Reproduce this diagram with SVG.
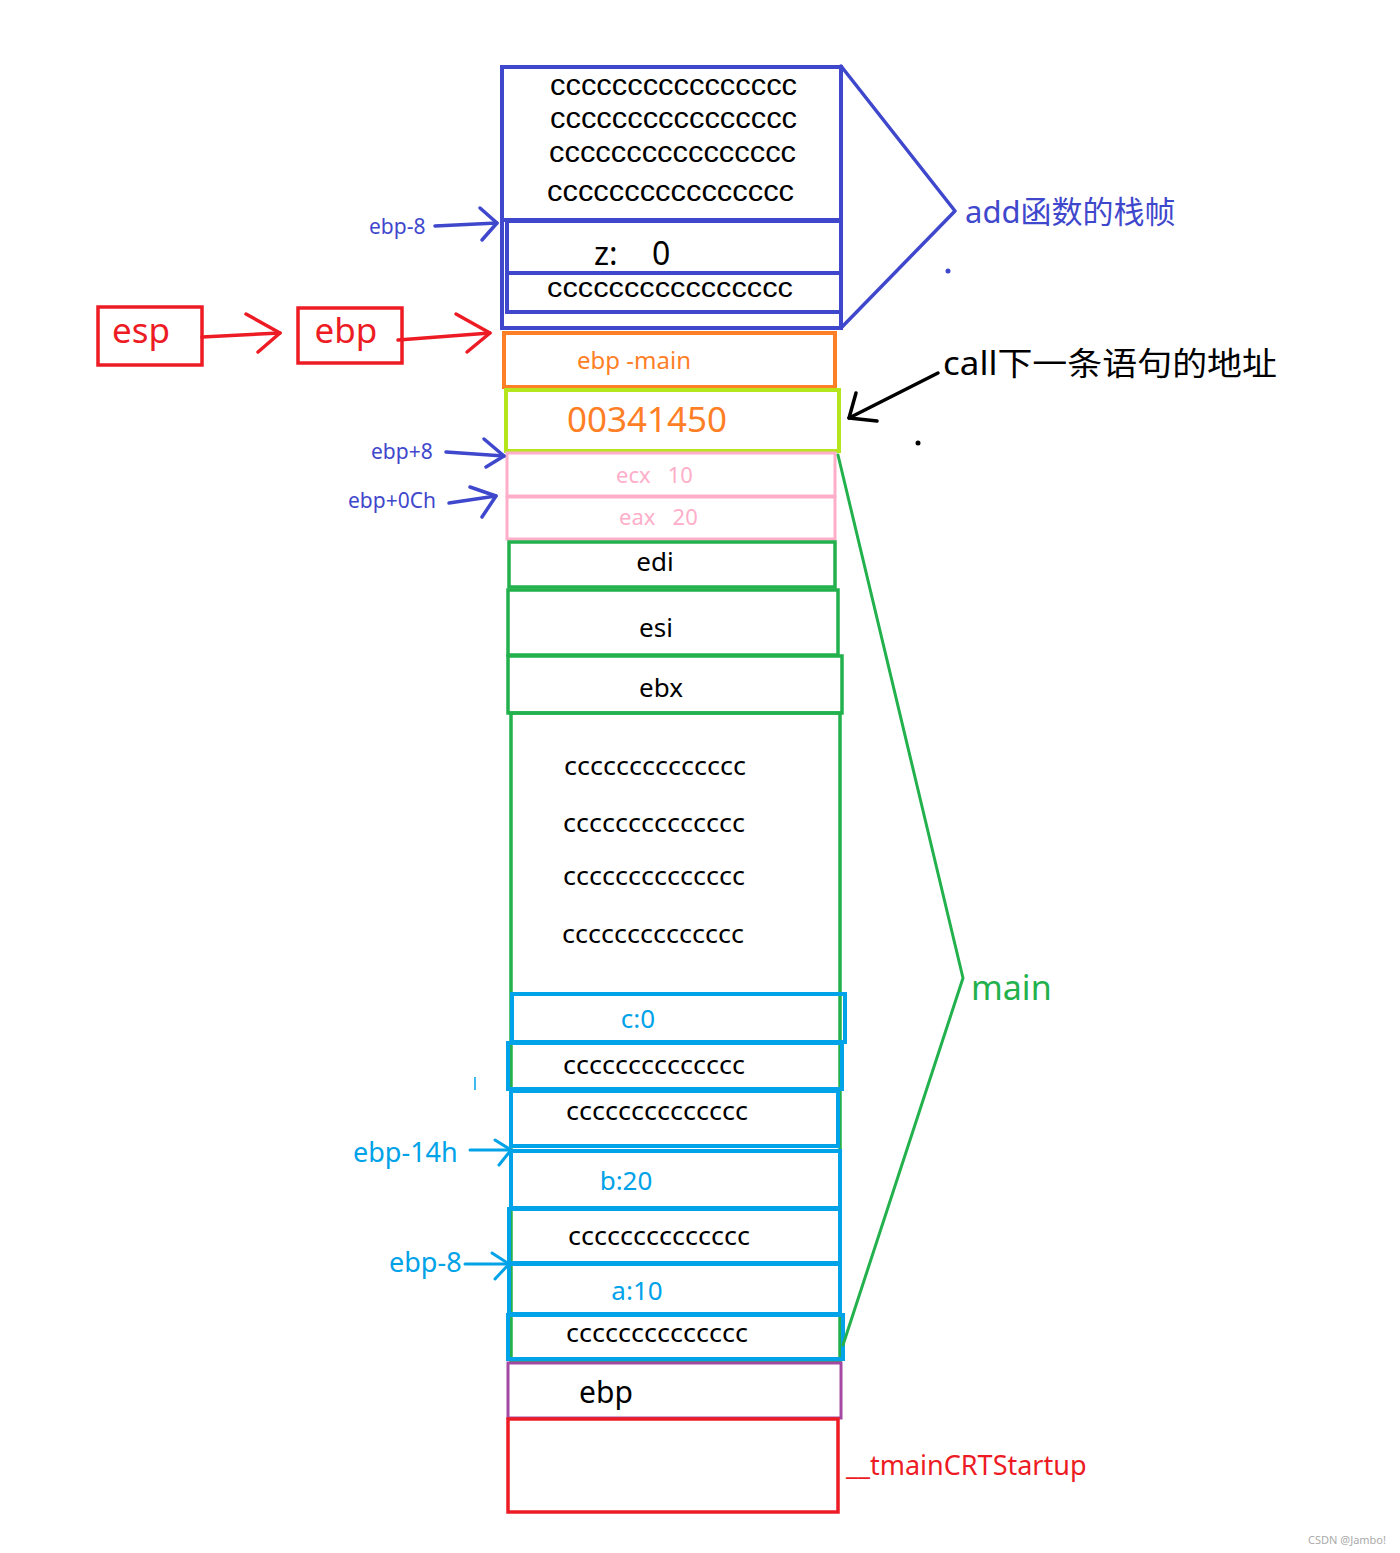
<svg xmlns="http://www.w3.org/2000/svg" width="1400" height="1553" viewBox="0 0 1400 1553">
<style>
text{font-family:"Noto Sans","Noto Sans CJK SC",sans-serif;}
.bl{stroke:#3f48cc;fill:none;stroke-width:4;}
.rd{stroke:#ed1c24;fill:none;stroke-width:3.5;}
.gr{stroke:#22b14c;fill:none;stroke-width:3.5;}
.lb{stroke:#00a2e8;fill:none;stroke-width:4;}
.pk{stroke:#ffaec9;fill:none;stroke-width:3;}
.ln{fill:none;stroke-linecap:round;stroke-linejoin:round;}
.c{fill:#000;font-size:29px;font-family:"Liberation Sans",sans-serif;}
.cg{fill:#000;font-size:26px;}
.tb{fill:#3f48cc;}
.tl{fill:#00a2e8;}
</style>
<rect width="1400" height="1553" fill="#fff"/>

<g id="add-frame">
<rect class="bl" x="502" y="67" width="339" height="261"/>
<line class="bl" x1="503" y1="220" x2="841" y2="220" stroke-width="5"/>
<rect class="bl" x="507" y="221" width="334" height="52"/>
<rect class="bl" x="507" y="273" width="334" height="39"/>
<text class="c" x="550" y="95" textLength="247" lengthAdjust="spacingAndGlyphs">cccccccccccccccc</text>
<text class="c" x="550" y="128" textLength="247" lengthAdjust="spacingAndGlyphs">cccccccccccccccc</text>
<text class="c" x="549" y="162" textLength="247" lengthAdjust="spacingAndGlyphs">cccccccccccccccc</text>
<text class="c" x="547" y="201" textLength="247" lengthAdjust="spacingAndGlyphs">cccccccccccccccc</text>
<text fill="#000" font-size="32" font-family="Liberation Sans, sans-serif"><tspan x="594" y="265">z:</tspan><tspan x="652" y="265">0</tspan></text>
<text class="c" x="547" y="297" font-size="27" style="font-size:27px" textLength="246" lengthAdjust="spacingAndGlyphs">cccccccccccccccc</text>
</g>

<g id="ebp-main">
<rect x="504" y="333" width="331" height="54" fill="none" stroke="#ff7f27" stroke-width="4"/>
<text x="634" y="369" text-anchor="middle" font-size="24" fill="#ff7f27">ebp -main</text>
</g>

<g id="ret-addr">
<rect x="506" y="390" width="333" height="61" fill="none" stroke="#b5e61d" stroke-width="4"/>
<text x="647" y="432" text-anchor="middle" font-size="35" fill="#ff7f27">00341450</text>
</g>

<g id="ecx">
<rect class="pk" x="507" y="453" width="328" height="43"/>
<text x="616" y="483" font-size="22" fill="#ffaec9" xml:space="preserve">ecx   10</text>
</g>
<g id="eax">
<rect class="pk" x="507" y="497" width="328" height="42"/>
<text x="619" y="525" font-size="22" fill="#ffaec9" xml:space="preserve">eax   20</text>
</g>

<g id="edi">
<rect class="gr" x="509" y="542" width="326" height="45"/>
<text x="655" y="571" text-anchor="middle" font-size="26" fill="#000">edi</text>
</g>
<g id="esi">
<rect class="gr" x="508" y="590" width="330" height="65" stroke-width="4.5"/>
<text x="656" y="637" text-anchor="middle" font-size="26" fill="#000">esi</text>
</g>
<g id="ebx">
<rect class="gr" x="508" y="656" width="334" height="57"/>
<text x="661" y="697" text-anchor="middle" font-size="26" fill="#000">ebx</text>
</g>

<g id="main-body">
<rect class="gr" x="511" y="713" width="329" height="648"/>
<text class="cg" x="564" y="775" textLength="182" lengthAdjust="spacingAndGlyphs">cccccccccccccc</text>
<text class="cg" x="563" y="832" textLength="182" lengthAdjust="spacingAndGlyphs">cccccccccccccc</text>
<text class="cg" x="563" y="885" textLength="182" lengthAdjust="spacingAndGlyphs">cccccccccccccc</text>
<text class="cg" x="562" y="943" textLength="182" lengthAdjust="spacingAndGlyphs">cccccccccccccc</text>
</g>

<g id="var-c">
<rect class="lb" x="512" y="994" width="333" height="48"/>
<text x="638" y="1028" text-anchor="middle" font-size="26" class="tl">c:0</text>
</g>
<g id="pad1">
<rect class="lb" x="508" y="1043" width="334" height="46"/>
<text class="cg" x="563" y="1074" textLength="182" lengthAdjust="spacingAndGlyphs">cccccccccccccc</text>
</g>
<g id="pad2">
<rect class="lb" x="511" y="1091" width="327" height="55"/>
<text class="cg" x="566" y="1120" textLength="182" lengthAdjust="spacingAndGlyphs">cccccccccccccc</text>
</g>
<g id="var-b">
<rect class="lb" x="511" y="1151" width="329" height="57"/>
<text x="626" y="1190" text-anchor="middle" font-size="26" class="tl">b:20</text>
</g>
<g id="pad3">
<rect class="lb" x="509" y="1209" width="331" height="54"/>
<text class="cg" x="568" y="1245" textLength="182" lengthAdjust="spacingAndGlyphs">cccccccccccccc</text>
</g>
<g id="var-a">
<rect class="lb" x="509" y="1264" width="331" height="50"/>
<text x="637" y="1300" text-anchor="middle" font-size="26" class="tl">a:10</text>
</g>
<g id="pad4">
<rect class="lb" x="508" y="1315" width="335" height="44"/>
<text class="cg" x="566" y="1342" textLength="182" lengthAdjust="spacingAndGlyphs">cccccccccccccc</text>
</g>

<g id="caller-ebp">
<rect x="508" y="1363" width="333" height="55" fill="none" stroke="#a349a4" stroke-width="3"/>
<text x="606" y="1403" text-anchor="middle" font-size="30" fill="#000">ebp</text>
</g>
<g id="tmainCRTStartup">
<rect class="rd" x="508" y="1419" width="330" height="93"/>
</g>

<g id="esp">
<rect class="rd" x="98" y="307" width="104" height="58"/>
<text x="141" y="343" text-anchor="middle" font-size="35" fill="#ed1c24">esp</text>
</g>
<g id="ebp">
<rect class="rd" x="298" y="308" width="104" height="55"/>
<text x="346" y="343" text-anchor="middle" font-size="35" fill="#ed1c24">ebp</text>
</g>

<g id="labels">
<text x="965" y="223" font-size="31" class="tb">add函数的栈帧</text>
<text x="943" y="375" font-size="32" fill="#000" textLength="334" lengthAdjust="spacingAndGlyphs">call下一条语句的地址</text>
<text x="971" y="1000" font-size="34" fill="#22b14c">main</text>
<text x="846" y="1475" font-size="27" fill="#ed1c24">__tmainCRTStartup</text>
<text x="369" y="234" font-size="21" class="tb">ebp-8</text>
<text x="371" y="459" font-size="21" class="tb">ebp+8</text>
<text x="348" y="508" font-size="21" class="tb">ebp+0Ch</text>
<text x="353" y="1162" font-size="27" class="tl">ebp-14h</text>
<text x="389" y="1272" font-size="27" class="tl">ebp-8</text>
<text x="1308" y="1544" font-size="11" fill="#aaa">CSDN @Jambo!</text>
</g>

<g id="connectors">
<polyline class="ln" stroke="#3f48cc" stroke-width="3.5" points="841,66 955,211 841,328"/>
<polyline class="ln" stroke="#22b14c" stroke-width="3" points="838,455 963,978 843,1345"/>

<line class="ln" stroke="#ed1c24" stroke-width="3.5" x1="202" y1="337" x2="280" y2="333"/>
<polyline class="ln" stroke="#ed1c24" stroke-width="3.5" points="246,314 280,333 258,352"/>
<line class="ln" stroke="#ed1c24" stroke-width="3.5" x1="398" y1="340" x2="490" y2="333"/>
<polyline class="ln" stroke="#ed1c24" stroke-width="3.5" points="456,314 490,333 467,352"/>

<line class="ln" stroke="#3f48cc" stroke-width="3.5" x1="435" y1="226" x2="497" y2="223"/>
<polyline class="ln" stroke="#3f48cc" stroke-width="3.5" points="480,208 497,223 482,240"/>
<line class="ln" stroke="#3f48cc" stroke-width="3.5" x1="446" y1="452" x2="504" y2="456"/>
<polyline class="ln" stroke="#3f48cc" stroke-width="3.5" points="484,439 504,456 486,467"/>
<line class="ln" stroke="#3f48cc" stroke-width="3.5" x1="449" y1="503" x2="496" y2="496"/>
<polyline class="ln" stroke="#3f48cc" stroke-width="3.5" points="470,487 496,496 482,517"/>

<line class="ln" stroke="#000" stroke-width="3.5" x1="938" y1="373" x2="849" y2="418"/>
<polyline class="ln" stroke="#000" stroke-width="3.5" points="856,393 849,418 877,421"/>

<line class="ln" stroke="#00a2e8" stroke-width="3" x1="470" y1="1150" x2="511" y2="1150"/>
<polyline class="ln" stroke="#00a2e8" stroke-width="3" points="495,1140 511,1150 499,1165"/>
<line class="ln" stroke="#00a2e8" stroke-width="3" x1="465" y1="1264" x2="509" y2="1264"/>
<polyline class="ln" stroke="#00a2e8" stroke-width="3" points="492,1253 509,1264 495,1279"/>

<circle cx="948" cy="271" r="2.5" fill="#3f48cc"/>
<circle cx="918" cy="443" r="2.5" fill="#000"/>
<line stroke="#00a2e8" stroke-width="1.5" x1="475" y1="1077" x2="475" y2="1090"/>
</g>
</svg>
